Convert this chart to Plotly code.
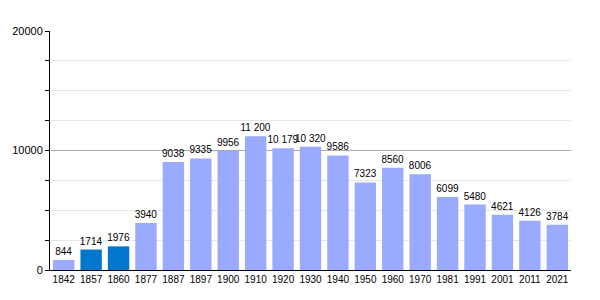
import plotly.graph_objects as go

years = ["1842","1857","1860","1877","1887","1897","1900","1910","1920","1930",
         "1940","1950","1960","1970","1981","1991","2001","2011","2021"]
population = [844,1714,1976,3940,9038,9335,9956,11200,10179,10320,
              9586,7323,8560,8006,6099,5480,4621,4126,3784]
labels = ["844","1714","1976","3940","9038","9335","9956","11 200","10 179","10 320",
          "9586","7323","8560","8006","6099","5480","4621","4126","3784"]
highlight = ["1857","1860"]

colors = ["#0077CC" if y in highlight else "#99AAFF" for y in years]

fig = go.Figure()
fig.add_trace(go.Bar(
    x=years, y=population, marker=dict(color=colors, line=dict(width=0)),
    text=labels, textposition="outside", cliponaxis=False,
    textfont=dict(family="Liberation Sans, Arial", size=10, color="#000000"),
    hoverinfo="skip",
))

fig.update_layout(
    width=600, height=300,
    margin=dict(l=50, r=29, t=31, b=30),
    paper_bgcolor="white", plot_bgcolor="white",
    bargap=0.22, showlegend=False,
    uniformtext=dict(minsize=10, mode="show"),
    font=dict(family="Liberation Sans, Arial", size=10, color="#000000"),
    xaxis=dict(type="category", showline=True, linecolor="#000000", linewidth=1,
               ticks="", showgrid=False, tickfont=dict(size=10)),
    yaxis=dict(range=[0, 20000], tickvals=[0, 10000, 20000],
               ticktext=["0", "10000", "20000"],
               showline=True, linecolor="#000000", linewidth=1,
               ticks="outside", ticklen=4, tickcolor="#000000",
               gridcolor="#AAAAAA", gridwidth=1, zeroline=False,
               minor=dict(dtick=2500, ticks="outside", ticklen=4, tickcolor="#000000",
                          showgrid=True, gridcolor="#E6E6E6", gridwidth=1),
               tickfont=dict(size=11)),
)

fig.write_html("out.html")
